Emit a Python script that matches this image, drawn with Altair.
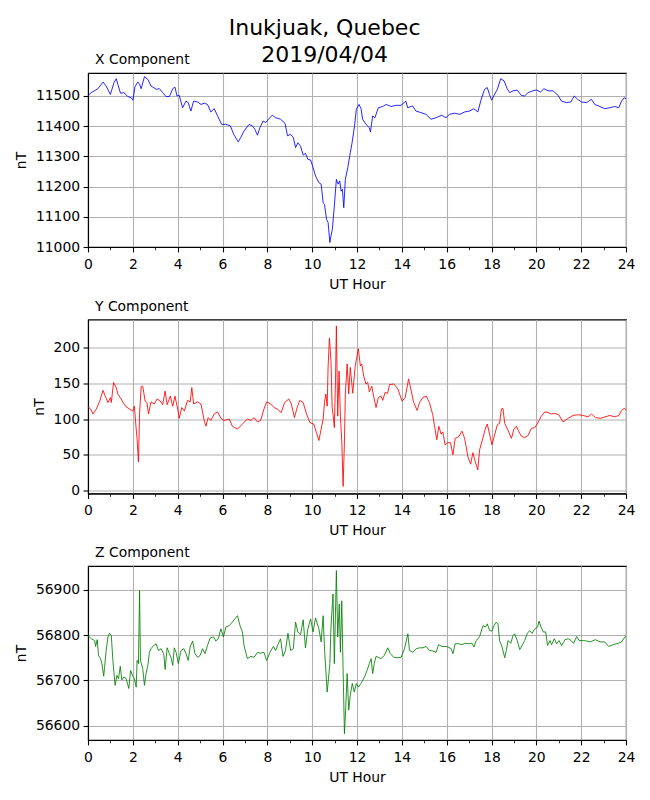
import altair as alt
import pandas as pd

# ---------------- data ----------------
X_COMPONENT = [
    (0, 11502), (0.15, 11511), (0.44, 11524), (0.67, 11546), (0.81, 11533), (1.0, 11505), (1.16, 11544), (1.26, 11557), (1.33, 11539), (1.45, 11509),
    (1.6, 11511), (1.78, 11498), (1.93, 11494), (2.0, 11486), (2.1, 11531), (2.22, 11546), (2.3, 11539), (2.37, 11524), (2.52, 11564), (2.67, 11555),
    (2.81, 11533), (3.04, 11522), (3.19, 11524), (3.33, 11511), (3.48, 11498), (3.63, 11498), (3.78, 11524), (3.88, 11529), (3.97, 11500), (4.07, 11502),
    (4.22, 11461), (4.37, 11483), (4.47, 11478), (4.59, 11450), (4.71, 11483), (4.89, 11480), (5.04, 11472), (5.19, 11476), (5.33, 11472), (5.48, 11447),
    (5.63, 11458), (5.78, 11434), (5.96, 11406), (6.15, 11406), (6.35, 11401), (6.5, 11373), (6.7, 11348), (6.81, 11362), (6.96, 11384), (7.19, 11406),
    (7.33, 11401), (7.44, 11390), (7.56, 11370), (7.67, 11395), (7.81, 11417), (7.93, 11412), (8.07, 11425), (8.22, 11436), (8.37, 11428), (8.59, 11423),
    (8.79, 11409), (8.9, 11368), (9.04, 11373), (9.16, 11362), (9.26, 11329), (9.36, 11345), (9.48, 11334), (9.6, 11304), (9.7, 11310), (9.81, 11290),
    (9.93, 11288), (10.04, 11263), (10.15, 11235), (10.3, 11213), (10.4, 11208), (10.49, 11147), (10.55, 11141), (10.64, 11092), (10.71, 11081), (10.79, 11015),
    (10.84, 11037), (10.9, 11058), (10.99, 11136), (11.08, 11224), (11.16, 11208), (11.23, 11219), (11.29, 11185), (11.35, 11191), (11.41, 11130), (11.48, 11224),
    (11.59, 11263), (11.7, 11312), (11.78, 11345), (11.89, 11401), (11.97, 11456), (12.09, 11472), (12.18, 11458), (12.25, 11423), (12.4, 11406), (12.55, 11395),
    (12.6, 11381), (12.7, 11434), (12.8, 11428), (12.95, 11461), (13.15, 11465), (13.3, 11472), (13.52, 11465), (13.74, 11469), (13.96, 11469), (14.18, 11483),
    (14.26, 11461), (14.48, 11467), (14.63, 11450), (14.85, 11445), (15.08, 11439), (15.3, 11423), (15.53, 11428), (15.78, 11436), (15.97, 11428), (16.12, 11439),
    (16.35, 11443), (16.58, 11439), (16.8, 11447), (17.02, 11450), (17.21, 11458), (17.39, 11447), (17.54, 11489), (17.69, 11522), (17.81, 11528), (17.91, 11505),
    (18.01, 11486), (18.1, 11500), (18.26, 11522), (18.41, 11557), (18.56, 11550), (18.7, 11524), (18.81, 11511), (18.96, 11517), (19.15, 11519), (19.33, 11502),
    (19.48, 11500), (19.63, 11511), (19.85, 11517), (20.0, 11520), (20.19, 11513), (20.34, 11524), (20.52, 11517), (20.74, 11517), (20.97, 11502), (21.12, 11483),
    (21.34, 11478), (21.54, 11480), (21.69, 11500), (21.84, 11489), (22.02, 11480), (22.24, 11478), (22.46, 11489), (22.61, 11472), (22.83, 11465), (23.05, 11458),
    (23.28, 11461), (23.5, 11465), (23.68, 11461), (23.8, 11483), (23.92, 11494), (24.0, 11491),
]

Y_COMPONENT = [
    (0, 117), (0.12, 114), (0.22, 107), (0.37, 114), (0.52, 125), (0.67, 140), (0.77, 132), (0.89, 123), (1.0, 130), (1.04, 123),
    (1.14, 151), (1.26, 144), (1.33, 135), (1.48, 128), (1.6, 121), (1.7, 117), (1.85, 114), (2.0, 111), (2.07, 118), (2.15, 86),
    (2.19, 72), (2.25, 40), (2.3, 107), (2.37, 145), (2.44, 146), (2.55, 125), (2.63, 123), (2.7, 107), (2.81, 124), (2.96, 121),
    (3.08, 128), (3.23, 125), (3.33, 120), (3.44, 139), (3.53, 120), (3.67, 132), (3.78, 118), (3.88, 132), (4.0, 114), (4.07, 101),
    (4.18, 116), (4.3, 111), (4.44, 126), (4.56, 124), (4.63, 144), (4.71, 121), (4.89, 124), (5.04, 121), (5.19, 97), (5.26, 90),
    (5.36, 102), (5.48, 98), (5.63, 107), (5.78, 110), (5.93, 101), (6.07, 98), (6.3, 100), (6.44, 90), (6.67, 86), (6.89, 93),
    (7.11, 100), (7.26, 98), (7.41, 102), (7.56, 96), (7.7, 98), (7.85, 114), (7.97, 124), (8.15, 121), (8.3, 116), (8.44, 114),
    (8.62, 109), (8.77, 123), (8.96, 128), (9.07, 121), (9.21, 102), (9.33, 116), (9.45, 126), (9.6, 123), (9.75, 107), (9.9, 95),
    (10.07, 93), (10.19, 81), (10.3, 70), (10.4, 86), (10.49, 100), (10.55, 123), (10.61, 135), (10.67, 118), (10.71, 172), (10.77, 213),
    (10.84, 181), (10.89, 116), (10.93, 107), (10.99, 88), (11.04, 153), (11.08, 230), (11.14, 104), (11.2, 167), (11.26, 104), (11.32, 69),
    (11.38, 6), (11.44, 69), (11.48, 135), (11.56, 177), (11.63, 135), (11.7, 172), (11.81, 136), (11.92, 174), (12.06, 198), (12.15, 174),
    (12.21, 177), (12.3, 160), (12.4, 149), (12.48, 151), (12.55, 138), (12.66, 146), (12.74, 132), (12.85, 116), (12.95, 130), (13.07, 132),
    (13.15, 126), (13.25, 137), (13.37, 136), (13.45, 148), (13.64, 149), (13.82, 142), (14.01, 125), (14.15, 130), (14.3, 156), (14.42, 139),
    (14.53, 123), (14.68, 112), (14.79, 123), (14.94, 130), (15.09, 132), (15.23, 123), (15.38, 106), (15.46, 90), (15.56, 71), (15.65, 90),
    (15.75, 79), (15.83, 82), (15.93, 64), (16.05, 67), (16.17, 67), (16.28, 50), (16.38, 73), (16.53, 75), (16.68, 83), (16.8, 73),
    (16.95, 47), (17.07, 37), (17.17, 53), (17.27, 41), (17.39, 29), (17.47, 57), (17.61, 73), (17.72, 86), (17.81, 93), (17.92, 78),
    (18.02, 64), (18.14, 78), (18.26, 92), (18.36, 94), (18.44, 114), (18.51, 115), (18.59, 94), (18.74, 84), (18.89, 73), (19.0, 86),
    (19.11, 90), (19.21, 83), (19.33, 76), (19.48, 74), (19.63, 77), (19.78, 87), (19.93, 88), (20.06, 94), (20.2, 103), (20.38, 110),
    (20.53, 109), (20.67, 107), (20.82, 108), (21.0, 106), (21.19, 96), (21.42, 101), (21.64, 105), (21.87, 106), (22.09, 105), (22.31, 103),
    (22.46, 107), (22.64, 102), (22.88, 101), (23.06, 103), (23.28, 105), (23.5, 103), (23.68, 105), (23.8, 112), (23.92, 115), (24.0, 113),
]

Z_COMPONENT = [
    (0, 56799), (0.15, 56792), (0.3, 56788), (0.34, 56775), (0.41, 56790), (0.47, 56755), (0.56, 56748), (0.62, 56737), (0.7, 56709), (0.74, 56729),
    (0.81, 56766), (0.89, 56796), (0.96, 56804), (1.04, 56799), (1.11, 56744), (1.21, 56689), (1.29, 56711), (1.36, 56704), (1.44, 56731), (1.51, 56701),
    (1.6, 56707), (1.7, 56704), (1.82, 56682), (1.9, 56722), (2.0, 56709), (2.07, 56704), (2.15, 56685), (2.19, 56744), (2.25, 56737), (2.3, 56899),
    (2.34, 56744), (2.44, 56726), (2.52, 56689), (2.59, 56715), (2.67, 56733), (2.74, 56762), (2.81, 56770), (2.93, 56777), (3.04, 56781), (3.14, 56766),
    (3.26, 56770), (3.38, 56759), (3.44, 56724), (3.53, 56772), (3.63, 56759), (3.7, 56751), (3.78, 56733), (3.85, 56772), (3.93, 56762), (4.03, 56737),
    (4.15, 56766), (4.27, 56770), (4.37, 56759), (4.47, 56744), (4.56, 56775), (4.67, 56787), (4.77, 56759), (4.89, 56751), (5.0, 56755), (5.11, 56770),
    (5.22, 56759), (5.33, 56777), (5.45, 56794), (5.6, 56796), (5.7, 56787), (5.81, 56792), (5.93, 56814), (6.04, 56796), (6.15, 56818), (6.3, 56821),
    (6.44, 56829), (6.55, 56836), (6.67, 56843), (6.78, 56821), (6.89, 56807), (6.96, 56777), (7.11, 56748), (7.26, 56753), (7.41, 56751), (7.56, 56762),
    (7.7, 56760), (7.85, 56762), (7.97, 56744), (8.12, 56762), (8.27, 56775), (8.37, 56766), (8.47, 56779), (8.59, 56792), (8.7, 56753), (8.81, 56766),
    (8.92, 56804), (9.04, 56766), (9.16, 56770), (9.26, 56829), (9.36, 56807), (9.48, 56801), (9.6, 56834), (9.7, 56772), (9.81, 56814), (9.93, 56836),
    (10.04, 56807), (10.15, 56838), (10.3, 56814), (10.4, 56785), (10.49, 56843), (10.55, 56770), (10.67, 56674), (10.79, 56737), (10.84, 56818), (10.93, 56891),
    (10.99, 56737), (11.08, 56943), (11.14, 56796), (11.21, 56869), (11.26, 56762), (11.32, 56876), (11.38, 56722), (11.44, 56582), (11.5, 56641), (11.56, 56715),
    (11.63, 56634), (11.7, 56667), (11.79, 56693), (11.88, 56674), (11.97, 56693), (12.06, 56685), (12.18, 56693), (12.33, 56707), (12.45, 56722), (12.55, 56737),
    (12.63, 56748), (12.7, 56715), (12.77, 56737), (12.85, 56753), (12.95, 56751), (13.07, 56748), (13.22, 56755), (13.37, 56772), (13.49, 56759), (13.64, 56751),
    (13.79, 56750), (13.97, 56751), (14.12, 56770), (14.27, 56803), (14.34, 56766), (14.49, 56762), (14.64, 56770), (14.79, 56772), (14.94, 56772), (15.08, 56775),
    (15.23, 56766), (15.38, 56765), (15.53, 56762), (15.64, 56779), (15.79, 56775), (15.93, 56775), (16.05, 56774), (16.2, 56770), (16.28, 56759), (16.38, 56781),
    (16.53, 56781), (16.68, 56779), (16.83, 56782), (16.98, 56781), (17.13, 56782), (17.22, 56774), (17.32, 56788), (17.47, 56797), (17.62, 56821), (17.73, 56818),
    (17.81, 56825), (17.92, 56810), (18.02, 56809), (18.11, 56821), (18.21, 56829), (18.29, 56825), (18.36, 56788), (18.47, 56774), (18.59, 56750), (18.66, 56766),
    (18.74, 56788), (18.86, 56782), (18.96, 56799), (19.03, 56803), (19.15, 56788), (19.26, 56768), (19.36, 56777), (19.48, 56788), (19.6, 56804), (19.7, 56810),
    (19.81, 56804), (19.93, 56814), (20.06, 56818), (20.12, 56831), (20.21, 56818), (20.31, 56807), (20.42, 56807), (20.5, 56777), (20.61, 56788), (20.68, 56779),
    (20.8, 56792), (20.91, 56781), (21.01, 56788), (21.13, 56777), (21.28, 56790), (21.43, 56792), (21.55, 56788), (21.66, 56782), (21.8, 56797), (21.91, 56788),
    (22.1, 56788), (22.25, 56787), (22.4, 56785), (22.63, 56790), (22.85, 56785), (23.05, 56785), (23.23, 56775), (23.43, 56779), (23.65, 56782), (23.8, 56785),
    (23.92, 56794), (24.0, 56797),
]

HOUR_TICKS = list(range(0, 25))          # majors at even hours, minors at odd hours
X_TICKS = [11000, 11100, 11200, 11300, 11400, 11500]
Y_TICKS = [0, 50, 100, 150, 200]
Z_TICKS = [56600, 56700, 56800, 56900]
X_DOMAIN = [11000, 11576]
Y_DOMAIN = [-4, 239]
Z_DOMAIN = [56568, 56953]

FONT = "DejaVu Sans"
W, H = 538, 174


def panel(points, name, color, ticks, domain):
    df = pd.DataFrame(points, columns=["hour", "nT"])
    is_major = "datum.value % 2 == 0"
    x_axis = alt.Axis(
        values=HOUR_TICKS,
        title="UT Hour",
        labelExpr=f"{is_major} ? datum.label : ''",
        labelOverlap=False,
        labelFlush=False,
        labelPadding=5.5,
        titlePadding=6,
        tickSize={"condition": {"test": is_major, "value": 4.9}, "value": 2.8},
        tickWidth={"condition": {"test": is_major, "value": 1.1}, "value": 0.8},
        gridOpacity={"condition": {"test": is_major, "value": 1}, "value": 0},
    )
    y_axis = alt.Axis(values=ticks, title="nT", format="d")
    return (
        alt.Chart(df)
        .mark_line(color=color, strokeWidth=0.85)
        .encode(
            x=alt.X("hour:Q", scale=alt.Scale(domain=[0, 24], nice=False, zero=False), axis=x_axis),
            y=alt.Y("nT:Q", scale=alt.Scale(domain=domain, nice=False, zero=False), axis=y_axis),
        )
        .properties(
            width=W,
            height=H,
            title=alt.TitleParams(
                text=name, anchor="start", frame="group", dx=7, offset=6, fontSize=13.9,
                fontWeight="normal", font=FONT, color="black",
            ),
        )
    )


chart = (
    alt.vconcat(
        panel(X_COMPONENT, "X Component", "#0000ff", X_TICKS, X_DOMAIN),
        panel(Y_COMPONENT, "Y Component", "#ff0000", Y_TICKS, Y_DOMAIN),
        panel(Z_COMPONENT, "Z Component", "#008000", Z_TICKS, Z_DOMAIN),
        spacing=6.5,
    )
    .properties(
        title=alt.TitleParams(
            text=["Inukjuak, Quebec", "2019/04/04"],
            anchor="middle", fontSize=22, lineHeight=27, offset=-14,
            fontWeight="normal", font=FONT, color="black",
        ),
        padding={"left": 5, "top": 8, "right": 5, "bottom": 5},
        background="white",
    )
    .configure_view(stroke="black", strokeWidth=1.1)
    .configure_axis(
        labelFont=FONT, titleFont=FONT, labelFontSize=13.9, titleFontSize=13.9,
        titleFontWeight="normal", labelColor="black", titleColor="black",
        domainColor="black", domainWidth=1.1, tickColor="black",
        tickSize=4.9, tickWidth=1.1, labelPadding=3.5,
        gridColor="#b0b0b0", gridWidth=1.1, titlePadding=4,
    )
    .configure_axisY(titlePadding=7)
)

chart.save("out.html", embed_options={"renderer": "svg", "actions": False})
